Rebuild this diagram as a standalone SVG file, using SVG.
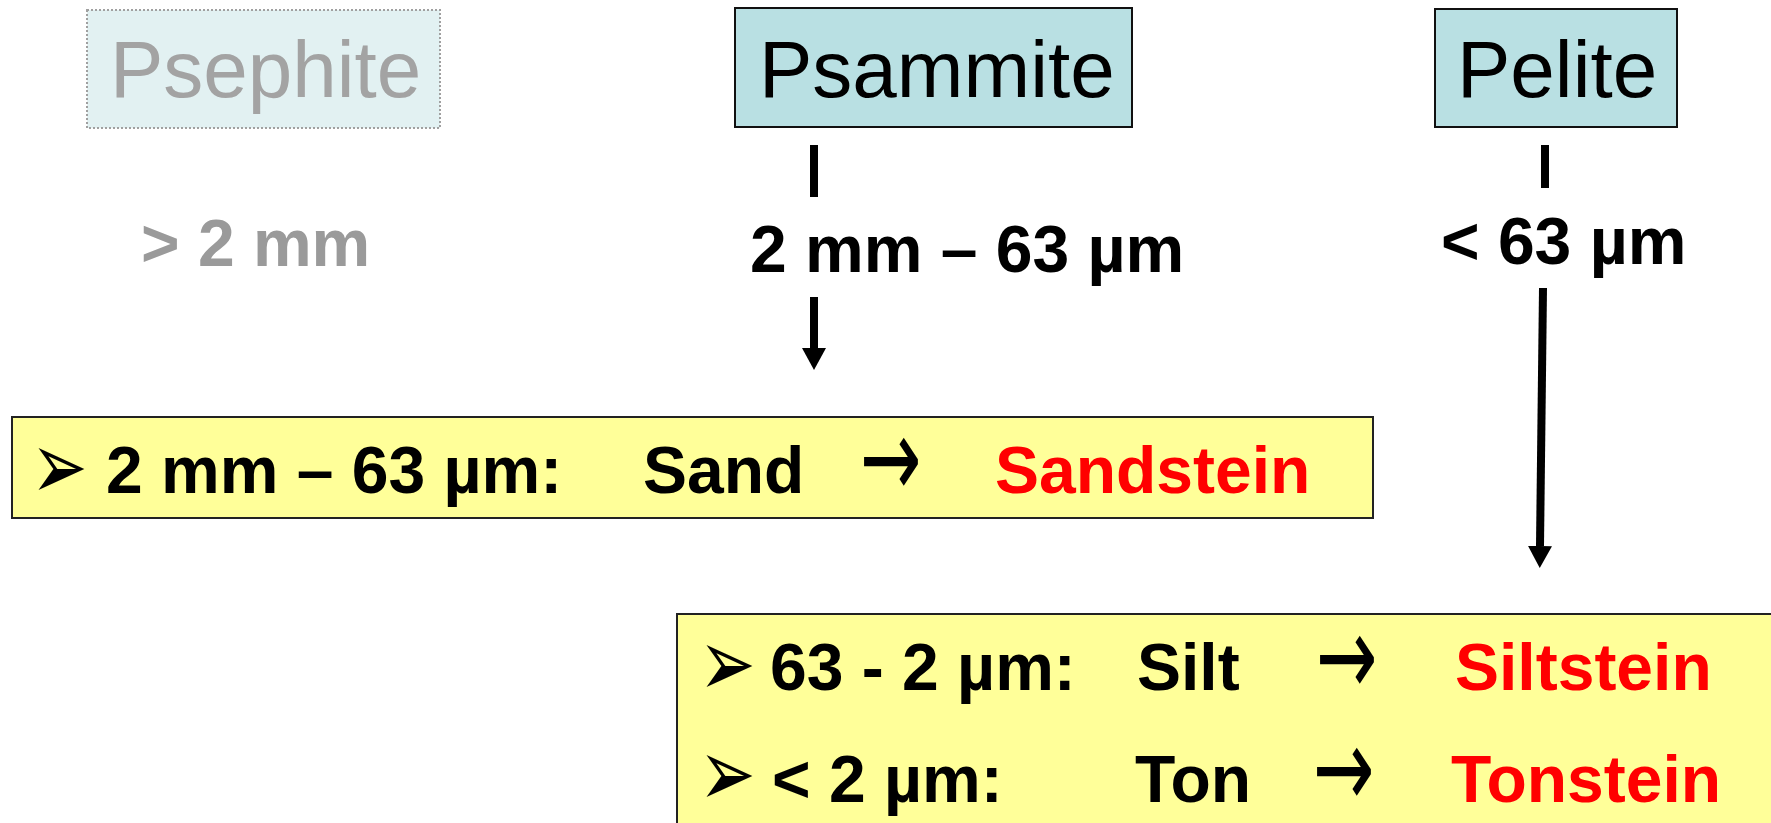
<svg xmlns="http://www.w3.org/2000/svg" width="1771" height="823" viewBox="0 0 1771 823">
<style>
.hdr{fill:#B9E0E3;stroke:#111;stroke-width:2}
.hdrtxt{font-family:"Liberation Sans",Arial,sans-serif;font-size:80px;fill:#000}
.lbl{font-family:"Liberation Sans",Arial,sans-serif;font-size:66px;font-weight:bold;fill:#000}
.red{fill:#FF0000}
.gray{fill:#9A9A9A}
.box{fill:#FFFF99;stroke:#222;stroke-width:2}
.bul{font-family:"DejaVu Sans",sans-serif;font-size:52px;fill:#000}
.arr{font-family:"DejaVu Sans",sans-serif;font-size:70px;fill:#000}
.con{stroke:#000;stroke-width:8;fill:none}
</style>
<defs>
<marker id="ah" markerUnits="userSpaceOnUse" viewBox="0 -12 22 24" refX="0" refY="0" markerWidth="22" markerHeight="24" orient="auto">
<path d="M0,-12 L22,0 L0,12 z" fill="#000"/>
</marker>
</defs>
<rect width="1771" height="823" fill="#fff"/>
<g id="psephite">
<rect x="87" y="10" width="353" height="118" fill="#E2F1F2" stroke="#A0A0A0" stroke-width="2" stroke-dasharray="2 2"/>
<text class="hdrtxt" x="110" y="97" style="fill:#A3A3A3">Psephite</text>
</g>
<g id="psammite">
<rect class="hdr" x="735" y="8" width="397" height="119"/>
<text class="hdrtxt" x="759" y="97">Psammite</text>
</g>
<g id="pelite">
<rect class="hdr" x="1435" y="9" width="242" height="118"/>
<text class="hdrtxt" x="1457" y="97">Pelite</text>
</g>
<g id="label-psephite">
<text class="lbl gray" x="141" y="266">&gt; 2 mm</text>
</g>
<g id="label-psammite">
<text class="lbl" x="750" y="272">2 mm – 63 µm</text>
</g>
<g id="label-pelite">
<text class="lbl" x="1441" y="264">&lt; 63 µm</text>
</g>
<g id="connectors">
<line class="con" x1="814" y1="145" x2="814" y2="197"/>
<line class="con" x1="814" y1="297" x2="814" y2="348" marker-end="url(#ah)"/>
<line class="con" x1="1545" y1="145" x2="1545" y2="188"/>
<line class="con" x1="1543" y1="288" x2="1540" y2="546" marker-end="url(#ah)"/>
</g>
<g id="sand-box">
<rect class="box" x="12" y="417" width="1361" height="101"/>
<text class="bul" transform="translate(31,499) scale(1.3,1.84)">➢</text>
<text class="lbl" x="106" y="493">2 mm – 63 µm:</text>
<text class="lbl" x="643" y="493">Sand</text>
<text class="arr" transform="translate(860,497) scale(1.05,1.6)">→</text>
<text class="lbl red" x="995" y="493">Sandstein</text>
</g>
<g id="pelite-box">
<rect class="box" x="677" y="614" width="1110" height="230"/>
<text class="bul" transform="translate(699,696) scale(1.3,1.84)">➢</text>
<text class="lbl" x="770" y="690">63 - 2 µm:</text>
<text class="lbl" x="1137" y="690">Silt</text>
<text class="arr" transform="translate(1316,695) scale(1.05,1.6)">→</text>
<text class="lbl red" x="1455" y="690">Siltstein</text>
<text class="bul" transform="translate(699,806) scale(1.3,1.84)">➢</text>
<text class="lbl" x="772" y="802">&lt; 2 µm:</text>
<text class="lbl" x="1135" y="802">Ton</text>
<text class="arr" transform="translate(1313,807) scale(1.05,1.6)">→</text>
<text class="lbl red" x="1451" y="802">Tonstein</text>
</g>
</svg>
